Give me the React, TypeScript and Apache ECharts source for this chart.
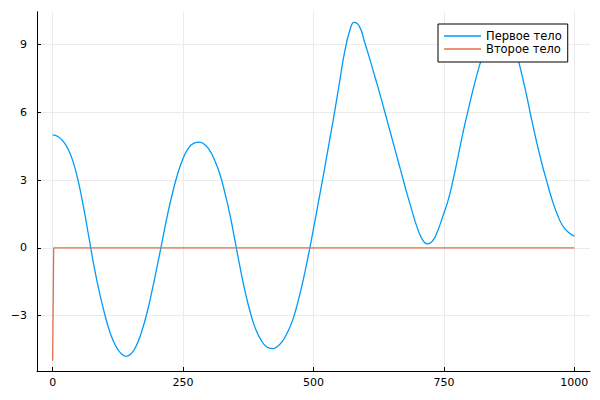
import React, { useEffect, useRef } from "react";
import * as echarts from "echarts";

const tBlue = [
  0, 10, 20, 30, 40, 50, 60, 70, 80, 90, 100, 110, 120, 130, 141,
  150, 160, 170, 180, 190, 200, 210, 220, 230, 240, 250, 260, 270, 281,
  290, 300, 310, 320, 330, 340, 350, 360, 370, 380, 390, 400, 410, 421,
  430, 440, 450, 460, 470, 480, 490, 500, 510, 520, 530, 540, 550, 560, 570, 578,
  588, 598, 608, 618, 628, 638, 648, 658, 668, 678, 688, 698, 708, 718,
  728, 738, 748, 758, 768, 778, 788, 798, 808, 818, 828, 838, 848, 857,
  867, 877, 887, 897, 907, 917, 927, 937, 947, 957, 967, 977, 988, 1000,
];
const yBlue = [
  5.0, 4.93, 4.72, 4.35, 3.75, 2.85, 1.7, 0.4, -0.9, -2.0, -2.95, -3.75, -4.3, -4.65, -4.8,
  -4.7, -4.35, -3.75, -2.95, -1.95, -0.85, 0.3, 1.45, 2.45, 3.3, 3.95, 4.4, 4.62, 4.68,
  4.6, 4.35, 3.9, 3.3, 2.45, 1.45, 0.25, -0.95, -2.05, -2.95, -3.65, -4.1, -4.38, -4.46,
  -4.38, -4.15, -3.75, -3.2, -2.4, -1.45, -0.35, 0.85, 2.1, 3.35, 4.65, 5.95, 7.35, 8.7, 9.65, 9.98,
  9.8, 9.1, 8.35, 7.55, 6.75, 5.9, 5.05, 4.2, 3.35, 2.5, 1.7, 0.95, 0.4, 0.18,
  0.3, 0.75, 1.4, 2.1, 3.05, 4.15, 5.25, 6.25, 7.2, 8.05, 8.75, 9.3, 9.65, 9.8,
  9.7, 9.4, 8.75, 7.9, 6.9, 5.8, 4.75, 3.8, 2.95, 2.15, 1.5, 1.0, 0.7, 0.52,
];
const tOrange = [0, 2, 1000];
const yOrange = [-5, 0, 0];

const seriesNames = ["Первое тело", "Второе тело"];
const seriesColors = ["#009AFA", "#E36F47"];
const xTicks = [0, 250, 500, 750, 1000];
const yTicks = [-3, 0, 3, 6, 9];

const fmt = (v: number) => (v < 0 ? "\u2212" + Math.abs(v) : String(v));

export default function App() {
  const ref = useRef<HTMLDivElement>(null);
  useEffect(() => {
    if (!ref.current) return;
    const chart = echarts.init(ref.current, undefined, { renderer: "svg" });
    const font = "DejaVu Sans";
    chart.setOption({
      animation: false,
      backgroundColor: "#ffffff",
      grid: { left: 37, right: 10, top: 11.7, bottom: 29 },
      legend: {
        orient: "vertical",
        left: 438,
        top: 24,
        itemWidth: 37,
        itemHeight: 12,
        itemGap: 1,
        padding: [6, 6, 7, 6],
        borderColor: "#000",
        borderWidth: 1,
        borderRadius: 0,
        backgroundColor: "#fff",
        textStyle: { fontFamily: font, fontSize: 11.5, color: "#000" },
        data: seriesNames.map((n, i) => ({
          name: n,
          icon: "path://M0,0H37V1.3H0Z",
          itemStyle: { color: seriesColors[i], borderWidth: 0 },
        })),
      },
      xAxis: {
        type: "value",
        min: -30,
        max: 1030,
        axisLine: { show: true, onZero: false, lineStyle: { color: "#000", width: 1 } },
        axisTick: {
          show: true,
          inside: true,
          length: 4,
          customValues: xTicks,
          lineStyle: { color: "#000" },
        },
        axisLabel: {
          customValues: xTicks,
          formatter: fmt,
          fontFamily: font,
          fontSize: 11,
          color: "#000",
          margin: 6,
        },
        splitLine: { show: true, lineStyle: { color: "#ebebeb", width: 1 } },
      },
      yAxis: {
        type: "value",
        min: -5.45,
        max: 10.45,
        axisLine: { show: true, onZero: false, lineStyle: { color: "#000", width: 1 } },
        axisTick: {
          show: true,
          inside: true,
          length: 4,
          customValues: yTicks,
          lineStyle: { color: "#000" },
        },
        axisLabel: {
          customValues: yTicks,
          formatter: fmt,
          fontFamily: font,
          fontSize: 11,
          color: "#000",
          margin: 10,
        },
        splitLine: { show: true, lineStyle: { color: "#ebebeb", width: 1 } },
      },
      series: [
        {
          name: seriesNames[0],
          type: "line",
          symbol: "none",
          smooth: true,
          lineStyle: { color: seriesColors[0], width: 1.3 },
          itemStyle: { color: seriesColors[0] },
          data: tBlue.map((t, i) => [t, yBlue[i]]),
        },
        {
          name: seriesNames[1],
          type: "line",
          symbol: "none",
          lineStyle: { color: seriesColors[1], width: 1.3 },
          itemStyle: { color: seriesColors[1] },
          data: tOrange.map((t, i) => [t, yOrange[i]]),
        },
      ],
    });
    return () => chart.dispose();
  }, []);
  return <div ref={ref} style={{ width: 600, height: 400, position: "absolute", left: 0, top: 0 }} />;
}
